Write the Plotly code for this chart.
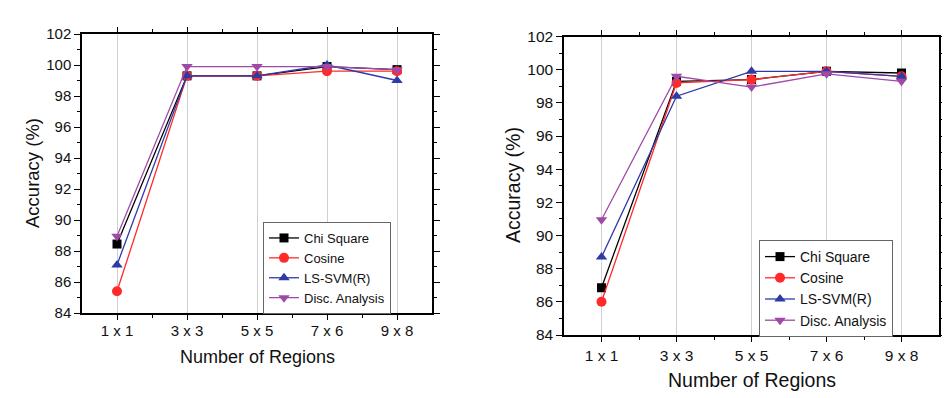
import plotly.graph_objects as go

categories = ["1 x 1", "3 x 3", "5 x 5", "7 x 6", "9 x 8"]
series_names = ["Chi Square", "Cosine", "LS-SVM(R)", "Disc. Analysis"]

# Left panel
left_chi = [88.45, 99.3, 99.3, 99.9, 99.7]
left_cos = [85.4, 99.3, 99.3, 99.6, 99.6]
left_lss = [87.1, 99.3, 99.3, 100.0, 99.0]
left_disc = [88.95, 99.9, 99.9, 99.9, 99.7]

# Right panel
right_chi = [86.85, 99.3, 99.4, 99.9, 99.8]
right_cos = [86.0, 99.2, 99.4, 99.9, 99.6]
right_lss = [88.7, 98.4, 99.9, 99.9, 99.6]
right_disc = [90.95, 99.6, 98.95, 99.75, 99.3]

y_ticks = [84, 86, 88, 90, 92, 94, 96, 98, 100, 102]

colors = ["#000000", "#ff2a2a", "#2e3aa8", "#a04aa8"]
symbols = ["square", "circle", "triangle-up", "triangle-down"]
sizes = [9, 10, 10, 10]

xpos = list(range(len(categories)))
font = "Liberation Sans, Arial, sans-serif"

fig = go.Figure()

left_data = [left_chi, left_cos, left_lss, left_disc]
right_data = [right_chi, right_cos, right_lss, right_disc]

for i, name in enumerate(series_names):
    fig.add_trace(go.Scatter(
        x=xpos, y=left_data[i], name=name, mode="lines+markers",
        line=dict(color=colors[i], width=1.3),
        marker=dict(symbol=symbols[i], size=sizes[i], color=colors[i]),
        xaxis="x", yaxis="y", legend="legend"))
for i, name in enumerate(series_names):
    fig.add_trace(go.Scatter(
        x=xpos, y=right_data[i], name=name, mode="lines+markers",
        line=dict(color=colors[i], width=1.3),
        marker=dict(symbol=symbols[i], size=sizes[i], color=colors[i]),
        xaxis="x2", yaxis="y2", legend="legend2"))

def xaxis(domain, anchor, fs, standoff):
    return dict(
        domain=domain, anchor=anchor, range=[-0.5, 4.5],
        tickmode="array", tickvals=xpos, ticktext=categories,
        ticks="outside", ticklen=5, tickwidth=1.2, tickcolor="#000",
        showline=True, linecolor="#000", linewidth=1.5, mirror="ticks",
        showgrid=True, gridcolor="#d0d0d0", gridwidth=1, zeroline=False,
        ticklabelstandoff=standoff,
        minor=dict(tickmode="array", tickvals=[0.5, 1.5, 2.5, 3.5],
                   ticks="outside", ticklen=3, tickcolor="#000", showgrid=False),
        tickfont=dict(family=font, size=fs, color="#111"))

def yaxis(domain, anchor, fs):
    return dict(
        domain=domain, anchor=anchor, range=[84, 102],
        tickmode="array", tickvals=y_ticks,
        ticks="outside", ticklen=6, tickwidth=1.2, tickcolor="#000",
        showline=True, linecolor="#000", linewidth=1.5, mirror="ticks",
        showgrid=False, zeroline=False,
        minor=dict(tickmode="array", tickvals=[85, 87, 89, 91, 93, 95, 97, 99, 101],
                   ticks="outside", ticklen=3, tickcolor="#000", showgrid=False),
        tickfont=dict(family=font, size=fs, color="#111"))

W, H = 950, 398
OFF = 8  # page body margin offset
def px(v):
    return (v - OFF) / W
def py(v):
    return 1 - (v - OFF) / H

lx0, lx1, ly0, ly1 = 82, 432, 34, 313
rx0, rx1, ry0, ry1 = 564, 939, 36.5, 335

ann_font = dict(family=font, color="#111")

fig.update_layout(
    width=W, height=H,
    margin=dict(l=0, r=0, t=0, b=0, autoexpand=False),
    paper_bgcolor="#ffffff", plot_bgcolor="#ffffff",
    xaxis=xaxis([px(lx0), px(lx1)], "y", 15, -2),
    yaxis=yaxis([py(ly1), py(ly0)], "x", 15),
    xaxis2=xaxis([px(rx0), px(rx1)], "y2", 15.5, 1),
    yaxis2=yaxis([py(ry1), py(ry0)], "x2", 15.5),
    legend=dict(x=px(263), y=py(222), xanchor="left", yanchor="top",
                bgcolor="#ffffff", bordercolor="#666", borderwidth=1,
                font=dict(family=font, size=13, color="#111"),
                tracegroupgap=0, itemwidth=30),
    legend2=dict(x=px(759), y=py(240), xanchor="left", yanchor="top",
                 bgcolor="#ffffff", bordercolor="#666", borderwidth=1,
                 font=dict(family=font, size=14, color="#111"),
                 tracegroupgap=0, itemwidth=30),
    annotations=[
        dict(text="Accuracy (%)", x=px(33), y=py(173), xref="paper", yref="paper",
             xanchor="center", yanchor="middle",
             textangle=-90, showarrow=False, font=dict(size=18.5, **ann_font)),
        dict(text="Number of Regions", x=px(257), y=py(357), xref="paper", yref="paper",
             xanchor="center", yanchor="middle",
             showarrow=False, font=dict(size=18, **ann_font)),
        dict(text="Accuracy (%)", x=px(513), y=py(185), xref="paper", yref="paper",
             xanchor="center", yanchor="middle",
             textangle=-90, showarrow=False, font=dict(size=19.5, **ann_font)),
        dict(text="Number of Regions", x=px(752), y=py(380), xref="paper", yref="paper",
             xanchor="center", yanchor="middle",
             showarrow=False, font=dict(size=19.5, **ann_font)),
    ],
)

fig.write_html("out.html")
